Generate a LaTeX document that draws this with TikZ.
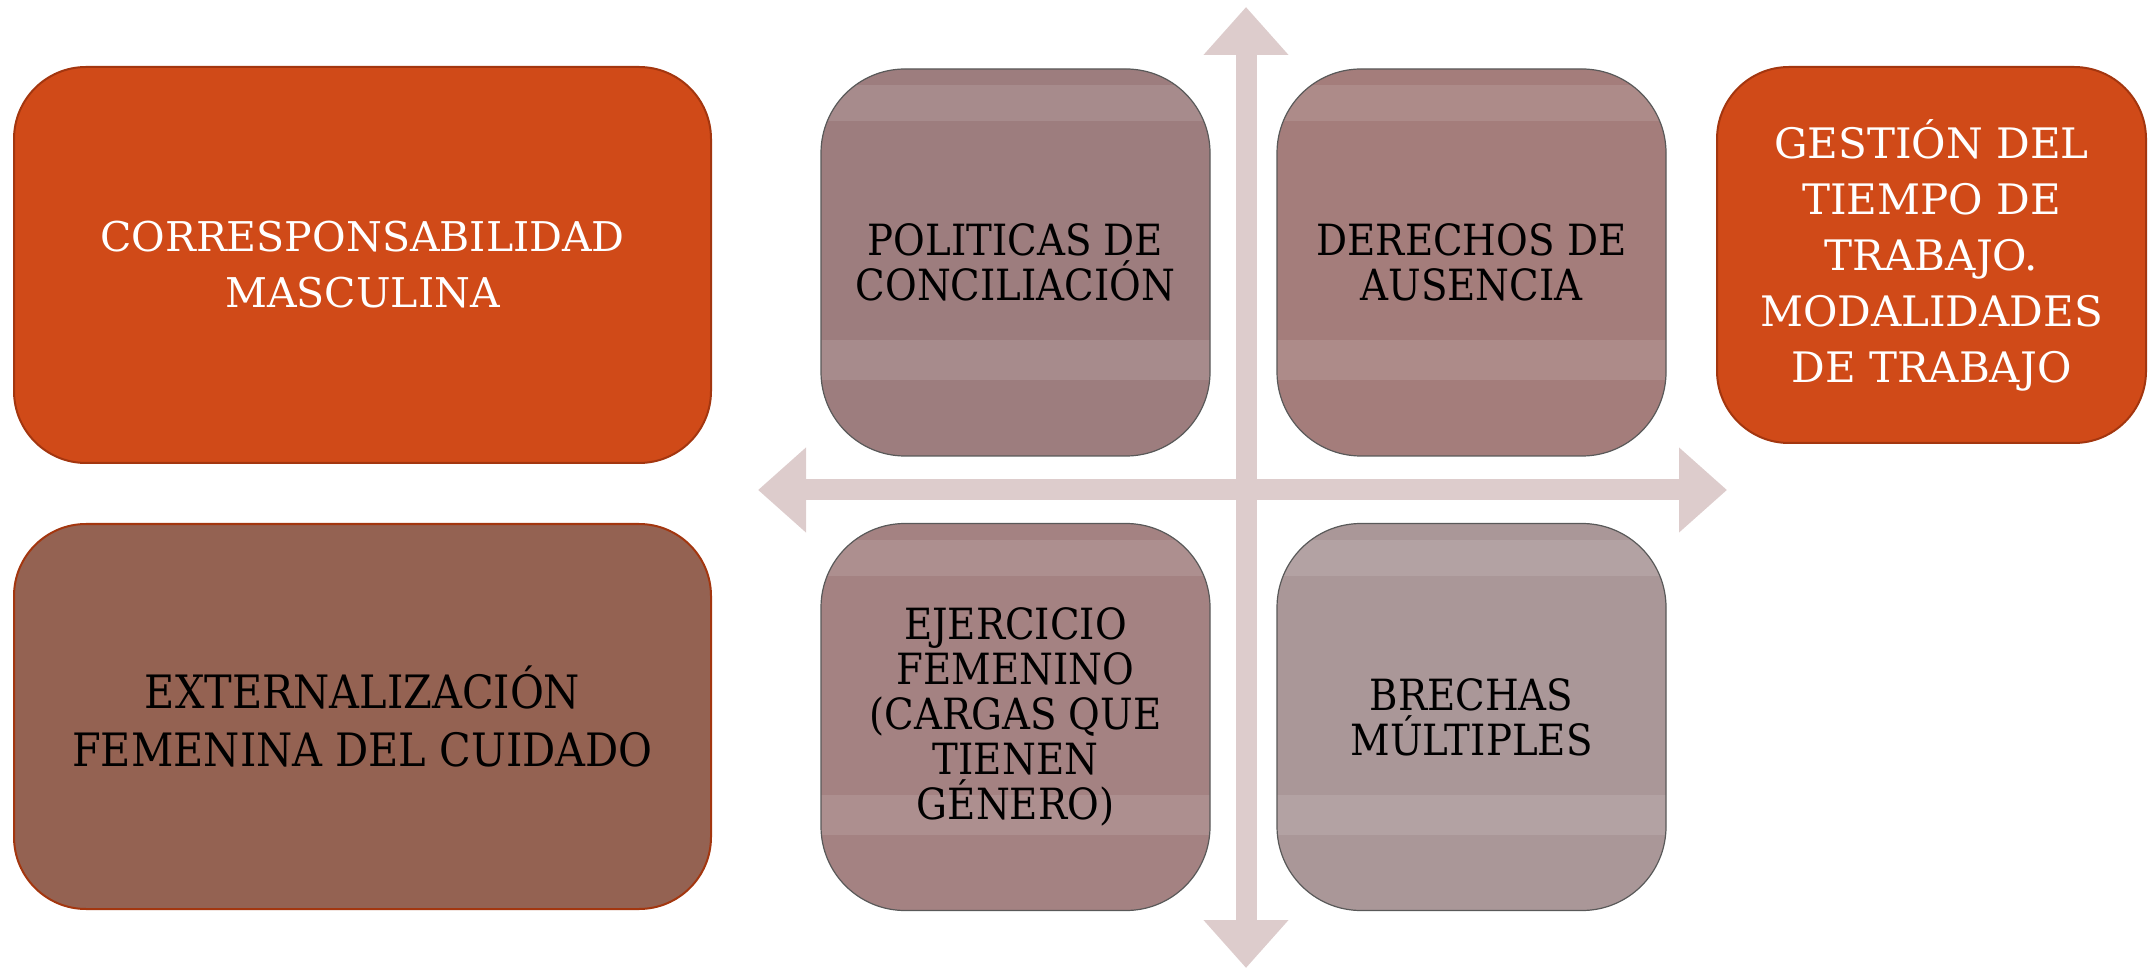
\documentclass[tikz,border=0pt]{standalone}
\usepackage{fontspec}
\setmainfont{DejaVu Serif}
\newfontfamily\condserif{DejaVu Serif Condensed}
\usetikzlibrary{arrows.meta,positioning}

\definecolor{burnt}{HTML}{D04A18}
\definecolor{burntline}{HTML}{A3360F}
\definecolor{cocoa}{HTML}{946252}
\definecolor{axisgray}{HTML}{DDCCCC}
\definecolor{mauvea}{HTML}{9D7D7E}
\definecolor{mauveb}{HTML}{A47D7B}
\definecolor{mauvec}{HTML}{A48282}
\definecolor{mauved}{HTML}{AA9798}

\tikzset{
  bigbox/.style={rounded corners=36pt, draw=burntline, line width=1pt, align=center,
    minimum width=348.5pt, minimum height=198pt, font=\fontsize{20.5}{28}\selectfont},
  quad/.style={rounded corners=42pt, draw=black!65, line width=0.6pt, align=center,
    minimum width=194.5pt, minimum height=193.5pt, font=\condserif\fontsize{21.5}{22.5}\selectfont,
    path picture={
      \fill[white,opacity=.11,sharp corners] ([yshift=-8pt]path picture bounding box.north west) rectangle ([yshift=-26pt]path picture bounding box.north east);
      \fill[white,opacity=.11,sharp corners] ([yshift=38pt]path picture bounding box.south west) rectangle ([yshift=58pt]path picture bounding box.south east);
    }},
  axis/.style={draw=axisgray, line width=10.5pt,
    {Triangle[width=41pt,length=24pt]}-{Triangle[width=41pt,length=24pt]}}
}

\begin{document}
\begin{tikzpicture}[x=0.5pt,y=-0.5pt,on grid]
  \useasboundingbox (0,0) rectangle (2156,972);

  % cross of axes
  \coordinate (ntip) at (1246,7);
  \coordinate (stip) at (1246,968);
  \coordinate (wtip) at (758,490);
  \coordinate (etip) at (1727,490);
  \draw[axis] (ntip) -- (stip);
  \draw[axis] (wtip) -- (etip);

  % quadrants
  \node[quad,fill=mauvea] (polit) at (1015.5,262.5) {POLITICAS DE\\CONCILIACIÓN};
  \node[quad,fill=mauveb] (derech) [right=228pt of polit] {DERECHOS DE\\AUSENCIA};
  \node[quad,fill=mauvec] (ejerc) [below=227.25pt of polit] {EJERCICIO\\FEMENINO\\(CARGAS QUE\\TIENEN\\GÉNERO)};
  \node[quad,fill=mauved] (brechas) [below=227.25pt of derech] {BRECHAS\\MÚLTIPLES};

  % side boxes
  \node[bigbox,fill=burnt,text=white] (corresp) at (362.5,265) {CORRESPONSABILIDAD\\MASCULINA};
  \node[bigbox,fill=cocoa,minimum height=192.5pt,font=\condserif\fontsize{23}{29}\selectfont] (extern) [below=225.75pt of corresp] {EXTERNALIZACIÓN\\FEMENINA DEL CUIDADO};
  \node[bigbox,fill=burnt,text=white,minimum width=214.5pt,minimum height=188pt,font=\fontsize{21}{28}\selectfont] (gestion) at (1931.5,255) {GESTIÓN DEL\\TIEMPO DE\\TRABAJO.\\MODALIDADES\\DE TRABAJO};
\end{tikzpicture}
\end{document}
